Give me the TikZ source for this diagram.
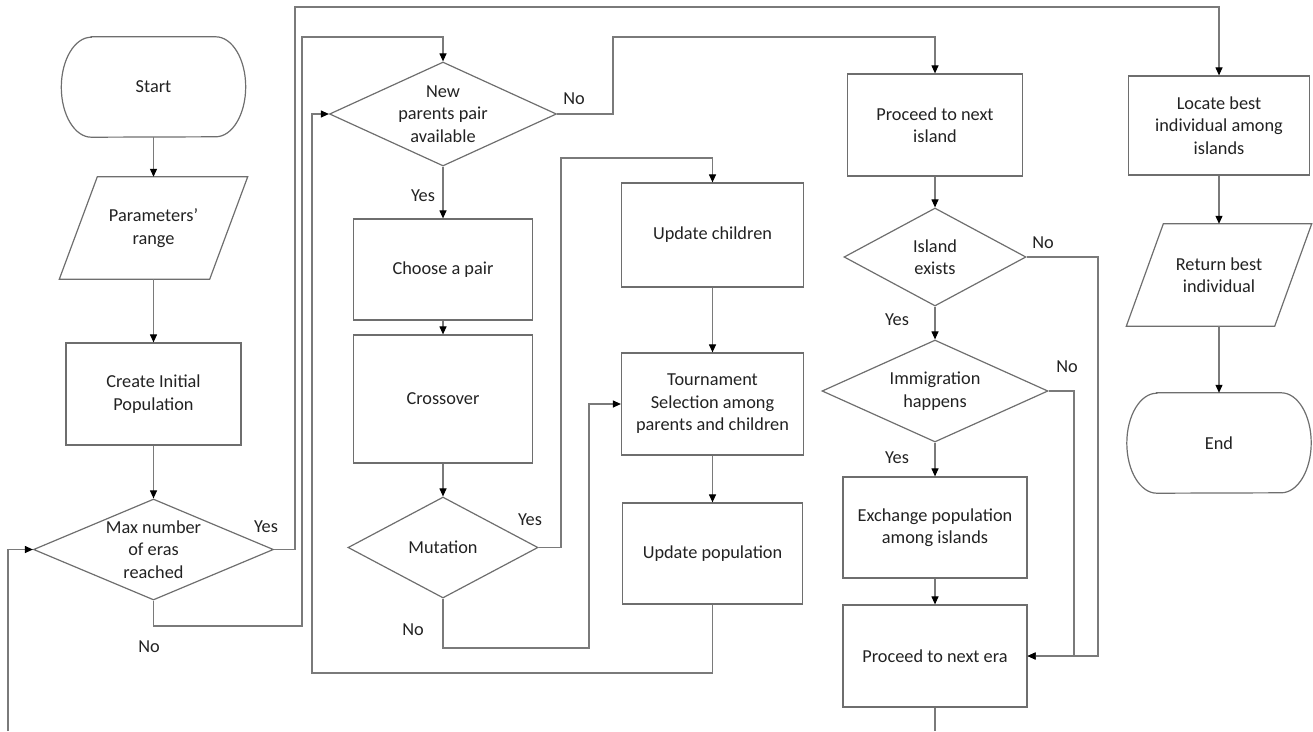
\documentclass[tikz,border=0pt]{standalone}
\usepackage{fontspec}
\setmainfont{Carlito}
\usetikzlibrary{shapes.geometric,arrows.meta}
\definecolor{edge}{HTML}{6E6E6E}
\definecolor{wirec}{HTML}{7A7A7A}
\definecolor{ink}{HTML}{222222}
\begin{document}
\begin{tikzpicture}[x=1pt,y=-1pt,
  every node/.style={font=\fontsize{18.3}{22.5}\selectfont, text=ink},
  box/.style={draw=edge, line width=1.2pt, rectangle, inner sep=0pt, align=center},
  dec/.style={draw=edge, line width=1.2pt, diamond, inner sep=0pt},
  ghost/.style={rectangle, inner sep=0pt, align=center},
  outline/.style={draw=edge, line width=1.2pt},
  conn/.style={draw=wirec, line width=1.1pt, -{Triangle[length=8pt,width=7pt,color=black]}},
  wire/.style={draw=wirec, line width=1.1pt},
  tag/.style={inner sep=0pt}
]
\useasboundingbox (0,0) rectangle (1313,731);

% ---------- left column ----------
\node[ghost, minimum width=184pt, minimum height=100pt] (start) at (153.5,87) {Start};
\draw[outline] ([xshift=30pt]start.north west) -- ([xshift=-30pt]start.north east)
  arc[start angle=90, end angle=-90, x radius=30pt, y radius=50pt]
  -- ([xshift=30pt]start.south west)
  arc[start angle=270, end angle=90, x radius=30pt, y radius=50pt] -- cycle;

\node[ghost, minimum width=150pt, minimum height=102pt] (param) at (153.5,228) {Parameters’\\range};
\draw[outline] ([xshift=19pt]param.north west) -- ([xshift=19pt]param.north east)
  -- ([xshift=-19pt]param.south east) -- ([xshift=-19pt]param.south west) -- cycle;

\node[box, minimum width=175pt, minimum height=102pt] (init) at (153.5,394) {Create Initial\\Population};

\node[dec, minimum width=240pt, minimum height=101pt,
  label={[align=center]center:Max number\\of eras\\reached}] (max) at (153.5,549.5) {};

% ---------- generation loop ----------
\node[dec, minimum width=227pt, minimum height=104pt,
  label={[align=center]center:New\\parents pair\\available}] (newp) at (443,114) {};
\node[box, minimum width=179pt, minimum height=101pt] (choose) at (443,269.5) {Choose a pair};
\node[box, minimum width=179pt, minimum height=128pt] (cross) at (443,399) {Crossover};
\node[dec, minimum width=190pt, minimum height=101pt,
  label={[align=center]center:Mutation}] (mut) at (443,547.5) {};

\node[box, minimum width=182pt, minimum height=104pt] (upch) at (712.5,235) {Update children};
\node[box, minimum width=182pt, minimum height=102pt] (tour) at (712.5,404) {Tournament\\Selection among\\parents and children};
\node[box, minimum width=180pt, minimum height=101pt] (uppop) at (712.5,553.5) {Update population};

% ---------- islands ----------
\node[box, minimum width=175pt, minimum height=102pt] (next) at (935,125) {Proceed to next\\island};
\node[dec, minimum width=182pt, minimum height=98pt,
  label={[align=center]center:Island\\exists}] (island) at (935,257) {};
\node[dec, minimum width=226pt, minimum height=102pt,
  label={[align=center]center:Immigration\\happens}] (immig) at (935,391) {};
\node[box, minimum width=184pt, minimum height=101pt] (exch) at (935,527.5) {Exchange population\\among islands};
\node[box, minimum width=184pt, minimum height=102pt] (era) at (935,656) {Proceed to next era};

% ---------- result ----------
\node[box, minimum width=181pt, minimum height=99pt] (locate) at (1219,125.5) {Locate best\\individual among\\islands};
\node[ghost, minimum width=148pt, minimum height=102pt] (ret) at (1219,275) {Return best\\individual};
\draw[outline] ([xshift=18.5pt]ret.north west) -- ([xshift=18.5pt]ret.north east)
  -- ([xshift=-18.5pt]ret.south east) -- ([xshift=-18.5pt]ret.south west) -- cycle;
\node[ghost, minimum width=184pt, minimum height=100pt] (end) at (1219,443) {End};
\draw[outline] ([xshift=30pt]end.north west) -- ([xshift=-30pt]end.north east)
  arc[start angle=90, end angle=-90, x radius=30pt, y radius=50pt]
  -- ([xshift=30pt]end.south west)
  arc[start angle=270, end angle=90, x radius=30pt, y radius=50pt] -- cycle;

% ---------- routing points ----------
\coordinate (t1) at (295,7);
\coordinate (n1) at (302,626);
\coordinate (n2) at (302,37);
\coordinate (n3) at (613,37);
\coordinate (m1) at (561,158);
\coordinate (m2) at (589,648);
\coordinate (p1) at (312,673);
\coordinate (i1) at (1098,656);
\coordinate (i2) at (1074,656);
\coordinate (l0) at (8,731);
\coordinate (l1) at (935,731);

% ---------- connectors ----------
\draw[conn] (start) -- (param.north);
\draw[conn] (param.south) -- (init);
\draw[conn] (init) -- (max.north);
\draw[conn] (max.east) -| (t1) -| (locate.north);
\draw[conn] (max.south) |- (n1) -- (n2) -| (newp.north);
\draw[conn] (l0) |- (max.west);

\draw[conn] (newp.south) -- (choose);
\draw[conn] (newp.east) -| (n3) -| (next.north);
\draw[conn] (choose) -- (cross);
\draw[conn] (cross) -- (mut.north);
\draw[conn] (mut.east) -| (m1) -| (upch.north);
\draw[conn] (mut.south) |- (m2) |- (tour.west);
\draw[conn] (upch) -- (tour);
\draw[conn] (tour) -- (uppop);
\draw[conn] (uppop.south) |- (p1) |- (newp.west);

\draw[conn] (next) -- (island.north);
\draw[conn] (island.south) -- (immig.north);
\draw[conn] (immig.south) -- (exch);
\draw[conn] (exch) -- (era);
\draw[conn] (island.east) -| (i1) -- (era.east);
\draw[conn] (immig.east) -| (i2) -- (era.east);
\draw[wire] (era.south) -- (l1);

\draw[conn] (locate) -- (ret.north);
\draw[conn] (ret.south) -- (end.north);

% ---------- branch labels ----------
\node[tag] (lyes1) at (266,527) {Yes};
\node[tag] (lno1) at (149,647) {No};
\node[tag] (lyes2) at (423,196) {Yes};
\node[tag] (lno2) at (574,99) {No};
\node[tag] (lyes3) at (530,520) {Yes};
\node[tag] (lno3) at (413,630) {No};
\node[tag] (lno4) at (1043,243) {No};
\node[tag] (lyes4) at (897,320) {Yes};
\node[tag] (lno5) at (1067,367) {No};
\node[tag] (lyes5) at (897,458) {Yes};
\end{tikzpicture}
\end{document}
